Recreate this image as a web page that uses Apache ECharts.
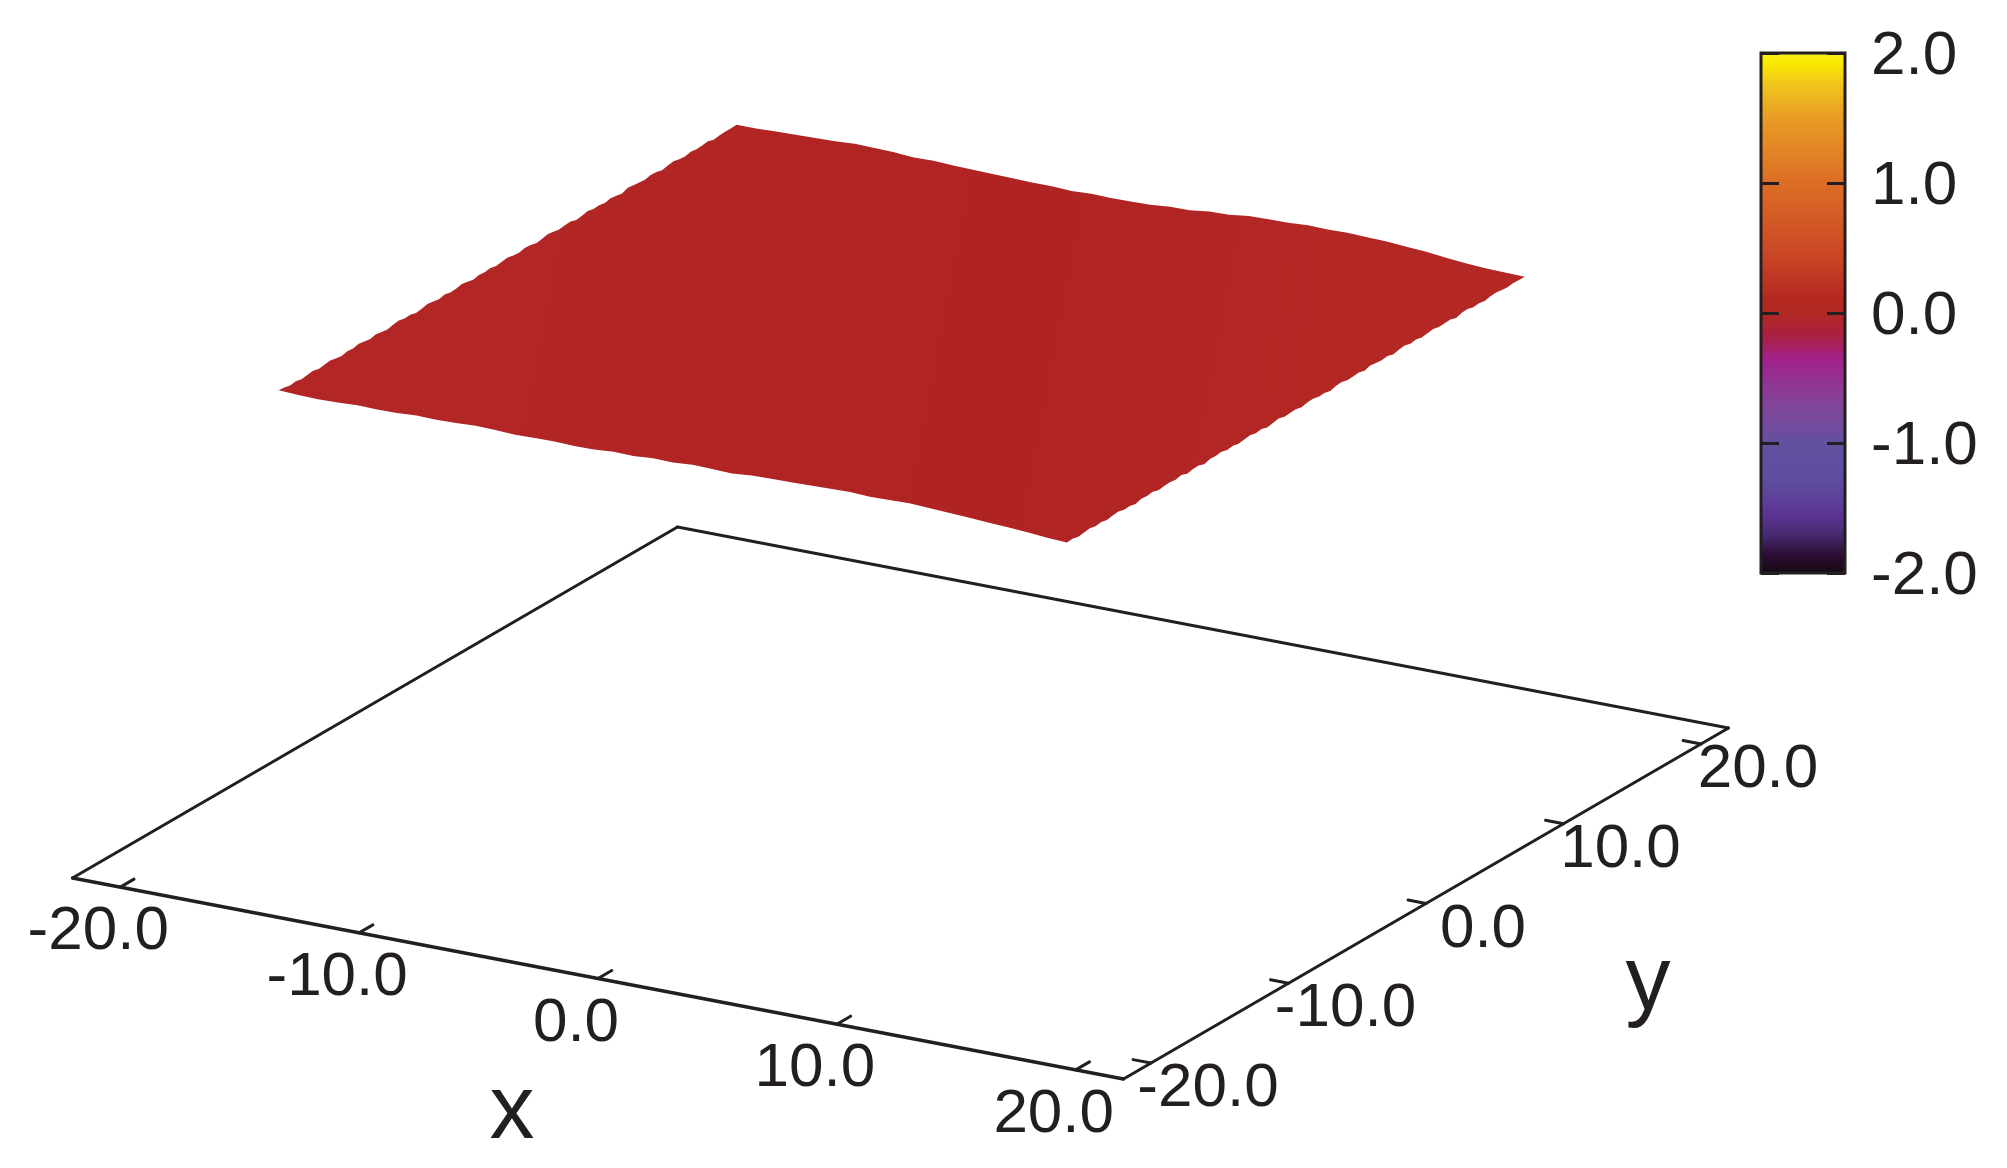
<!DOCTYPE html>
<html>
<head>
<meta charset="utf-8">
<style>
html, body { margin: 0; padding: 0; background: #fff; }
#main { width: 2007px; height: 1168px; }
</style>
<script src="https://cdn.jsdelivr.net/npm/echarts@6/dist/echarts.min.js"></script>
</head>
<body>
<div id="main"></div>
<script>
// tick values on the floor axes
var xTicks = [-20, -10, 0, 10, 20];
var yTicks = [-20, -10, 0, 10, 20];
var axisRange = [-22, 22];
var floorZ = -2;

// surface outline, z read along each edge, evenly spaced across the range
var surfaceX = [-16.45, 16.55];
var surfaceY = [-16.65, 16.65];
var frontEdgeZ = [.006, .002, 0, .002, .006, .004, .006, .011, .009, .011, .015, .013, .009, .011, .013, .009, .011, .017, .015, .021, .019, .026, .024, .021, .028, .030, .032, .034, .036, .038, .034, .036, .038, .034, .030, .026, .021, .017, .011, .004, 0];
var backEdgeZ = [.006, .006, .009, .011, .013, .015, .021, .019, .017, .011, .013, .009, .006, .004, .002, 0, 0, -.004, 0, -.002, 0, .002, .009, .011, .021, .024, .034, .036, .038, .043, .041, .043, .040, .038, .032, .026, .017, .009, .004, .002, 0];
var leftEdgeZ = [.006, .004, -.002, .002, -.004, 0, .004, -.002, .002, .006, 0, -.004, .002, 0, .006, .002, -.002, .004, 0, -.004, .002, .006, 0, .002, -.004, 0, .006, .002, -.002, .004, -.002, 0, .006, .002, -.004, .002, 0, .004, -.002, .002, .006, 0, -.002, .004, .002, -.004, 0, .006, .002, -.002, .002, .004, -.004, 0, .006, 0, .002, -.002, .004, 0, -.004, .006, .002, 0, -.002, .004, .002, -.004, .002, .006, 0, -.002, .004, 0, .002, .006, -.002, .002, .004, .004, .006];
var rightEdgeZ = [0, .002, -.004, 0, .004, -.002, .002, -.004, .002, .004, -.002, 0, -.006, .002, 0, .004, -.004, 0, .002, -.002, .004, -.004, 0, .002, -.006, .002, 0, .004, -.002, .002, -.004, 0, .004, -.002, .002, -.006, 0, .004, -.002, 0, .002, -.004, .002, .004, -.002, 0, -.006, .002, .004, -.002, 0, .002, -.004, .004, 0, -.002, .002, -.006, 0, .004, -.002, .002, -.004, 0, .004, -.002, 0, .002, -.006, .002, .004, -.002, 0, -.004, .002, .004, 0, -.002, .002, 0, 0];

// colour bar
var barMin = -2;
var barMax = 2;
var barValues = [2, 1.92, 1.75, 1.5, 1, 0.5, 0.1, 0, -0.18, -0.35, -0.7, -1, -1.3, -1.55, -1.7, -1.85, -2];
var barColors = ['#f9ee2a', '#fbec00', '#f1c61c', '#e99d25', '#dc6e25', '#cc4b26', '#b42820', '#b22822', '#aa1f42', '#a2218a', '#83459a', '#63509f', '#5f4c9e', '#5b3493', '#452a6f', '#2c0d33', '#130a0e'];

var textColor = '#231f20';
var fontName = '"Liberation Sans", Arial, sans-serif';

// oblique view of the box: screen position of the centre and of one unit along x, y, z
var view = { ox: 900.5, oy: 803, xx: 23.886, xy: 4.568, yx: 13.75, yy: -7.977, zy: -234.5 };
function project(x, y, z) {
	return [
		view.ox + x * view.xx + y * view.yx,
		view.oy + x * view.xy + y * view.yy + (z - floorZ) * view.zy
	];
}

function segment(api, a, b, width) {
	var p1 = api.coord(project(a[0], a[1], floorZ));
	var p2 = api.coord(project(b[0], b[1], floorZ));
	return {
		type: 'line',
		shape: { x1: p1[0], y1: p1[1], x2: p2[0], y2: p2[1] },
		style: { stroke: textColor, lineWidth: width, lineCap: 'round' }
	};
}

function label(api, pos, dx, dy, text, size) {
	var p = api.coord(project(pos[0], pos[1], floorZ));
	return {
		type: 'text',
		style: {
			x: p[0] + dx, y: p[1] + dy, text: text,
			fontFamily: fontName, fontSize: size, fill: textColor,
			align: 'center', verticalAlign: 'middle'
		}
	};
}

function renderFloor(params, api) {
	var lo = axisRange[0], hi = axisRange[1];
	var kids = [
		segment(api, [lo, lo], [hi, lo], 3.4),
		segment(api, [hi, lo], [hi, hi], 3),
		segment(api, [hi, hi], [lo, hi], 3),
		segment(api, [lo, hi], [lo, lo], 3)
	];
	xTicks.forEach(function(t) {
		kids.push(segment(api, [t, lo], [t, lo + 1], 3));
		kids.push(label(api, [t, lo], -22, 45, t.toFixed(1), 62));
	});
	yTicks.forEach(function(t) {
		kids.push(segment(api, [hi, t], [hi - 0.75, t], 3));
		kids.push(label(api, [hi, t], 57, 26, t.toFixed(1), 62));
	});
	kids.push(label(api, [0, lo], -86, 135, 'x', 90));
	kids.push(label(api, [hi, 0], 222, 81, 'y', 90));
	return { type: 'group', children: kids };
}

function edgePoints(zs, fn) {
	return zs.map(function(z, i) {
		return fn(i / (zs.length - 1), z);
	});
}

function renderSurface(params, api) {
	var x0 = surfaceX[0], x1 = surfaceX[1], y0 = surfaceY[0], y1 = surfaceY[1];
	var front = edgePoints(frontEdgeZ, function(t, z) { return project(x0 + t * (x1 - x0), y0, z); });
	var right = edgePoints(rightEdgeZ, function(t, z) { return project(x1, y0 + t * (y1 - y0), z); });
	var back = edgePoints(backEdgeZ, function(t, z) { return project(x0 + t * (x1 - x0), y1, z); }).reverse();
	var left = edgePoints(leftEdgeZ, function(t, z) { return project(x0, y0 + t * (y1 - y0), z); }).reverse();
	var pts = front.concat(right, back, left);
	var a = api.coord(project(x0, 0, 0));
	var b = api.coord(project(x1, 0, 0));
	return {
		type: 'polygon',
		shape: { points: pts.map(function(p) { return api.coord(p); }) },
		style: {
			fill: new echarts.graphic.LinearGradient(a[0], a[1], b[0], b[1], [
				{ offset: 0, color: '#b22625' },
				{ offset: 0.65, color: '#af2423' },
				{ offset: 1, color: '#b32725' }
			], true)
		}
	};
}

function renderBar(params, api) {
	var top = api.coord([0, barMax]);
	var bottom = api.coord([1, barMin]);
	var stops = barValues.map(function(v, i) {
		return { offset: (barMax - v) / (barMax - barMin), color: barColors[i] };
	});
	return {
		type: 'rect',
		shape: { x: top[0], y: top[1], width: bottom[0] - top[0], height: bottom[1] - top[1] },
		style: {
			fill: new echarts.graphic.LinearGradient(0, 0, 0, 1, stops),
			stroke: textColor, lineWidth: 3
		}
	};
}

var myChart = echarts.init(document.getElementById('main'), null, { renderer: 'canvas' });
var option = {
	animation: false,
	backgroundColor: '#ffffff',
	grid: [
		{ left: 0, top: 0, width: 2007, height: 1168 },
		{ left: 1761, top: 53, width: 84, height: 520 }
	],
	xAxis: [
		{ type: 'value', gridIndex: 0, min: 0, max: 2007, show: false },
		{ type: 'value', gridIndex: 1, min: 0, max: 1, show: false }
	],
	yAxis: [
		{ type: 'value', gridIndex: 0, min: 0, max: 1168, inverse: true, show: false },
		{
			type: 'value', gridIndex: 1, min: barMin, max: barMax, interval: 1, position: 'left', z: 5,
			axisLine: { show: false }, splitLine: { show: false }, axisLabel: { show: false },
			axisTick: { show: true, inside: true, length: 18, lineStyle: { color: textColor, width: 3 } }
		},
		{
			type: 'value', gridIndex: 1, min: barMin, max: barMax, interval: 1, position: 'right', z: 5,
			axisLine: { show: false }, splitLine: { show: false },
			axisTick: { show: true, inside: true, length: 18, lineStyle: { color: textColor, width: 3 } },
			axisLabel: {
				show: true, margin: 26, color: textColor, fontFamily: fontName, fontSize: 62,
				verticalAlign: 'top', lineHeight: 8,
				formatter: function(v) { return v.toFixed(1); }
			}
		}
	],
	series: [
		{ type: 'custom', xAxisIndex: 0, yAxisIndex: 0, clip: false, silent: true, data: [[0, 0]], renderItem: renderFloor },
		{ type: 'custom', xAxisIndex: 0, yAxisIndex: 0, clip: false, silent: true, data: [[0, 0]], renderItem: renderSurface },
		{ type: 'custom', xAxisIndex: 1, yAxisIndex: 1, clip: false, silent: true, z: 1, data: [[0, 0]], renderItem: renderBar }
	]
};
myChart.setOption(option);
window.onresize = myChart.resize;
</script>
</body>
</html>
